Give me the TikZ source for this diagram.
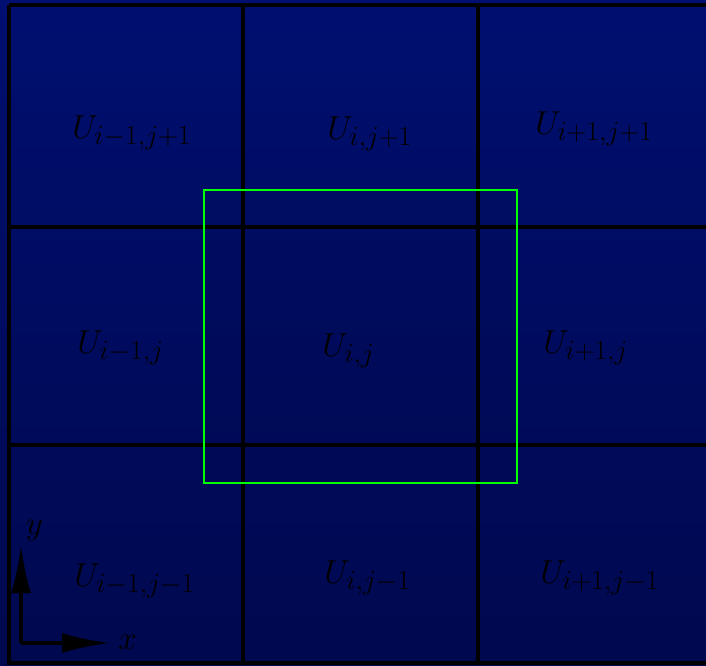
\documentclass[tikz,border=0pt]{standalone}
\usetikzlibrary{arrows.meta,patterns}
\definecolor{bgtop}{RGB}{0,15,112}
\definecolor{bgbot}{RGB}{0,8,78}
\definecolor{hl}{RGB}{0,255,0}
\tikzset{
  gridline/.style={black,line width=3pt},
  hlbox/.style={draw=hl,line width=2.1pt},
  lbl/.style={anchor=base west,inner sep=0pt,font=\fontsize{30}{34}\selectfont},
  axlbl/.style={anchor=center,inner sep=0pt,font=\fontsize{30}{34}\selectfont},
  axis/.style={black,line width=3pt,-{Latex[length=36pt,width=15pt]}}
}
\begin{document}
\begin{tikzpicture}[x=0.75pt,y=-0.75pt]
\useasboundingbox (0,0) rectangle (706,665);
\shade[top color=bgtop,bottom color=bgbot] (0,0) rectangle (706,665);
\fill[pattern=crosshatch dots,pattern color=black,fill opacity=0.3] (204,190) rectangle (517,483);
% grid
\foreach \gx in {9,243,478,712} \draw[gridline] (\gx,5) -- (\gx,665);
\foreach \gy in {5,227,445,663} \draw[gridline] (9,\gy) -- (720,\gy);
% highlight
\draw[hlbox] (204,190) rectangle (517,483);
% labels
\node[lbl] (tl) at (72,138) {$U_{i-1,j+1}$};
\node[lbl] (tm) at (327,139) {$U_{i,j+1}$};
\node[lbl] (tr) at (535,134) {$U_{i+1,j+1}$};
\node[lbl] (ml) at (77,353) {$U_{i-1,j}$};
\node[lbl] (cc) at (322,356) {$U_{i,j}$};
\node[lbl] (mr) at (543,353) {$U_{i+1,j}$};
\node[lbl] (bl) at (74,586) {$U_{i-1,j-1}$};
\node[lbl] (bm) at (324,583) {$U_{i,j-1}$};
\node[lbl] (br) at (540,583) {$U_{i+1,j-1}$};
% axes
\coordinate (o) at (21,643);
\coordinate (ytip) at (21,545);
\coordinate (xtip) at (110,643);
\draw[axis] (o) -- (ytip);
\draw[axis] (o) -- (xtip);
\node[axlbl] (ylab) at (34.5,530.5) {$y$};
\node[axlbl] (xlab) at (127.5,642.5) {$x$};
\end{tikzpicture}
\end{document}
